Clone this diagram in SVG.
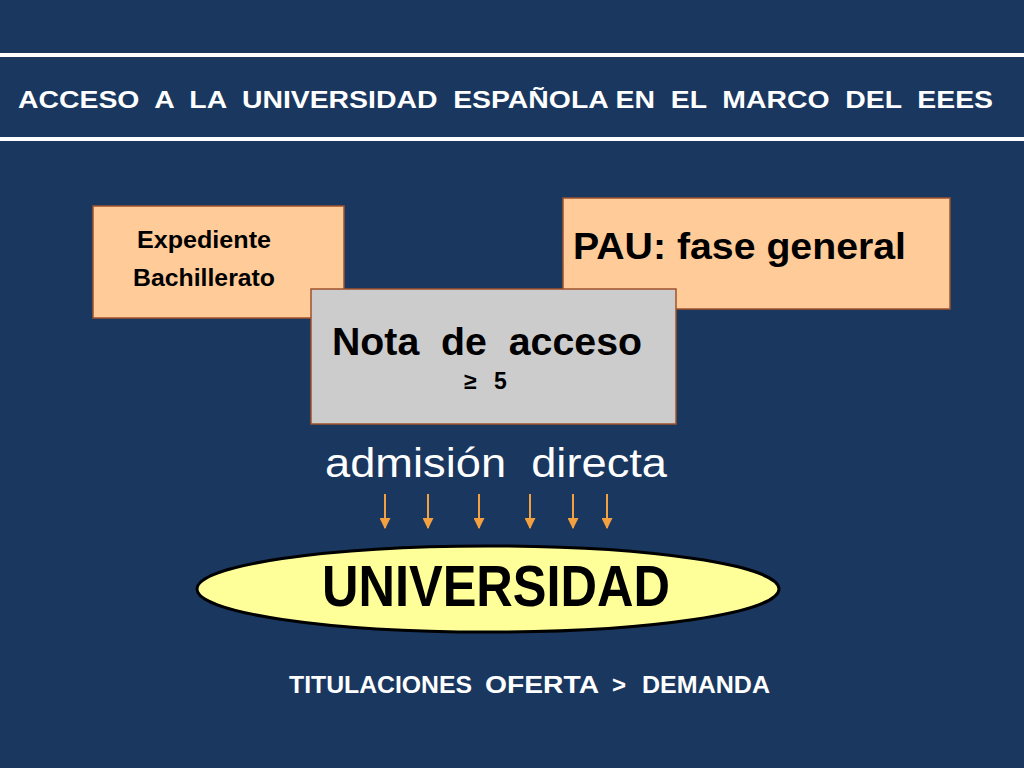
<svg xmlns="http://www.w3.org/2000/svg" width="1024" height="768" viewBox="0 0 1024 768">
<style>
.box{fill:#FFCC99;stroke:#A0522D;stroke-width:1.5}
.nota{fill:#CCCCCC;stroke:#A0522D;stroke-width:1.5}
.b{font-family:"Liberation Sans",Arial,sans-serif;font-weight:bold;fill:#000}
.w{font-family:"Liberation Sans",Arial,sans-serif;fill:#fff}
.arr{stroke:#F2A040;stroke-width:2;fill:none;marker-end:url(#ah)}
</style>
<defs>
<marker id="ah" viewBox="0 0 10 10" refX="9" refY="5" markerWidth="5.5" markerHeight="5.5" markerUnits="strokeWidth" orient="auto">
<path d="M0,0 L10,5 L0,10 z" fill="#F2A040"/>
</marker>
</defs>
<rect width="1024" height="768" fill="#19375F"/>
<g id="header">
<rect x="0" y="53" width="1024" height="4" fill="#fff"/>
<rect x="0" y="137" width="1024" height="4" fill="#fff"/>
<text class="w" x="18" y="108" font-size="24" font-weight="bold" textLength="975" lengthAdjust="spacingAndGlyphs" xml:space="preserve">ACCESO  A  LA  UNIVERSIDAD  ESPAÑOLA EN  EL  MARCO  DEL  EEES</text>
</g>
<g id="expediente">
<rect class="box" x="93" y="206" width="251" height="112"/>
<text class="b" x="204" y="248" font-size="23" text-anchor="middle" textLength="134" lengthAdjust="spacingAndGlyphs">Expediente</text>
<text class="b" x="204" y="286" font-size="23" text-anchor="middle" textLength="142" lengthAdjust="spacingAndGlyphs">Bachillerato</text>
</g>
<g id="pau">
<rect class="box" x="563" y="198" width="387" height="111"/>
<text class="b" x="573" y="259" font-size="37" textLength="333" lengthAdjust="spacingAndGlyphs">PAU: fase general</text>
</g>
<g id="nota">
<rect class="nota" x="311" y="289" width="365" height="135"/>
<text class="b" x="332" y="355" font-size="38" textLength="310" lengthAdjust="spacingAndGlyphs" xml:space="preserve">Nota  de  acceso</text>
<text class="b" x="464" y="389" font-size="23" font-weight="normal">≥</text>
<text class="b" x="494" y="389" font-size="23">5</text>
</g>
<g id="admision">
<text class="w" x="325" y="477" font-size="40" textLength="342" lengthAdjust="spacingAndGlyphs" xml:space="preserve">admisión  directa</text>
</g>
<g id="connectors">
<line class="arr" x1="385" y1="494" x2="385" y2="528"/>
<line class="arr" x1="428" y1="494" x2="428" y2="528"/>
<line class="arr" x1="479" y1="494" x2="479" y2="528"/>
<line class="arr" x1="530" y1="494" x2="530" y2="528"/>
<line class="arr" x1="573" y1="494" x2="573" y2="528"/>
<line class="arr" x1="607" y1="494" x2="607" y2="528"/>
</g>
<g id="universidad">
<ellipse cx="488" cy="589" rx="291" ry="43" fill="#FFFF99" stroke="#000" stroke-width="3"/>
<text class="b" x="322" y="606" font-size="58" textLength="348" lengthAdjust="spacingAndGlyphs">UNIVERSIDAD</text>
</g>
<g id="titulaciones">
<text class="w" font-size="24" font-weight="bold" y="693">
<tspan x="289" textLength="183" lengthAdjust="spacingAndGlyphs">TITULACIONES</tspan>
<tspan x="485" textLength="113" lengthAdjust="spacingAndGlyphs">OFERTA</tspan>
<tspan x="612">&gt;</tspan>
<tspan x="642" textLength="128" lengthAdjust="spacingAndGlyphs">DEMANDA</tspan>
</text>
</g>
</svg>
